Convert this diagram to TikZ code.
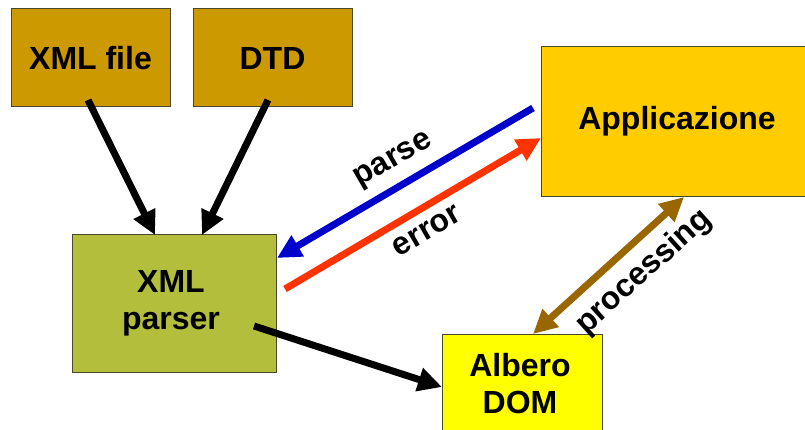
\documentclass[tikz,border=0pt]{standalone}
\usepackage{fontspec}
\setmainfont{Liberation Sans}
\usetikzlibrary{arrows.meta}
\definecolor{gold}{HTML}{CC9900}
\definecolor{olive}{HTML}{B2BE3C}
\definecolor{amber}{HTML}{FFCC00}
\definecolor{yel}{HTML}{FFFF00}
\definecolor{blu}{HTML}{0000CC}
\definecolor{redo}{HTML}{FF3300}
\definecolor{brn}{HTML}{996600}
\definecolor{edge}{HTML}{4A4A2A}
\tikzset{
  box/.style={draw=edge, line width=1pt, rectangle, inner sep=0pt, align=center,
    font=\bfseries\fontsize{32}{37}\selectfont},
  lbl/.style={inner sep=0pt, font=\bfseries\fontsize{32}{37}\selectfont},
  conn/.style={line width=7pt, -{Triangle[length=24pt,width=23pt]}},
  dconn/.style={line width=7pt, {Triangle[length=24pt,width=23pt]}-{Triangle[length=24pt,width=23pt]}},
}
\begin{document}
\begin{tikzpicture}[x=1pt,y=-1pt]
\useasboundingbox (0,0) rectangle (805,430);
\clip (0,0) rectangle (805,430);
\fill[white] (0,0) rectangle (805,430);
% boxes
\node[box, fill=gold, minimum width=159pt, minimum height=98pt] (xmlfile) at (90.5,58) {XML file};
\node[box, fill=gold, minimum width=159pt, minimum height=98pt] (dtd) at (272.5,58) {DTD};
\node[box, fill=olive, minimum width=204pt, minimum height=137pt] (parser) at (174,303.5) {};
\node[box, fill=amber, minimum width=270pt, minimum height=150pt] (app) at (676,122) {};
\node[box, fill=yel, minimum width=160pt, minimum height=110pt] (dom) at (522,389) {};
% texts
\node[lbl, align=center] (parsertxt) at (171,303) {XML\\parser};
\node[lbl] (apptxt) at (677,121) {Applicazione};
\node[lbl, align=center] (domtxt) at (520,384) {Albero\\DOM};
% connector end points
\coordinate (a1) at (88,100);
\coordinate (a2) at (155,235);
\coordinate (b1) at (268,100);
\coordinate (b2) at (202,235);
\coordinate (p1) at (533,108);
\coordinate (p2) at (277,258);
\coordinate (e1) at (285,289);
\coordinate (e2) at (541,138);
\coordinate (d1) at (533,334);
\coordinate (d2) at (684,197);
\coordinate (o1) at (254,326);
\coordinate (o2) at (442,387);
% connectors
\draw[conn, black] (a1) -- (a2);
\draw[conn, black] (b1) -- (b2);
\draw[conn, blu] (p1) -- (p2);
\draw[conn, redo] (e1) -- (e2);
\draw[dconn, brn] (d1) -- (d2);
\draw[conn, black] (o1) -- (o2);
% labels
\node[lbl, rotate=30] (parselbl) at (394,161) {parse};
\node[lbl, rotate=30] (errorlbl) at (427,231) {error};
\node[lbl, rotate=42] (proclbl) at (644,272) {processing};
\end{tikzpicture}
\end{document}
